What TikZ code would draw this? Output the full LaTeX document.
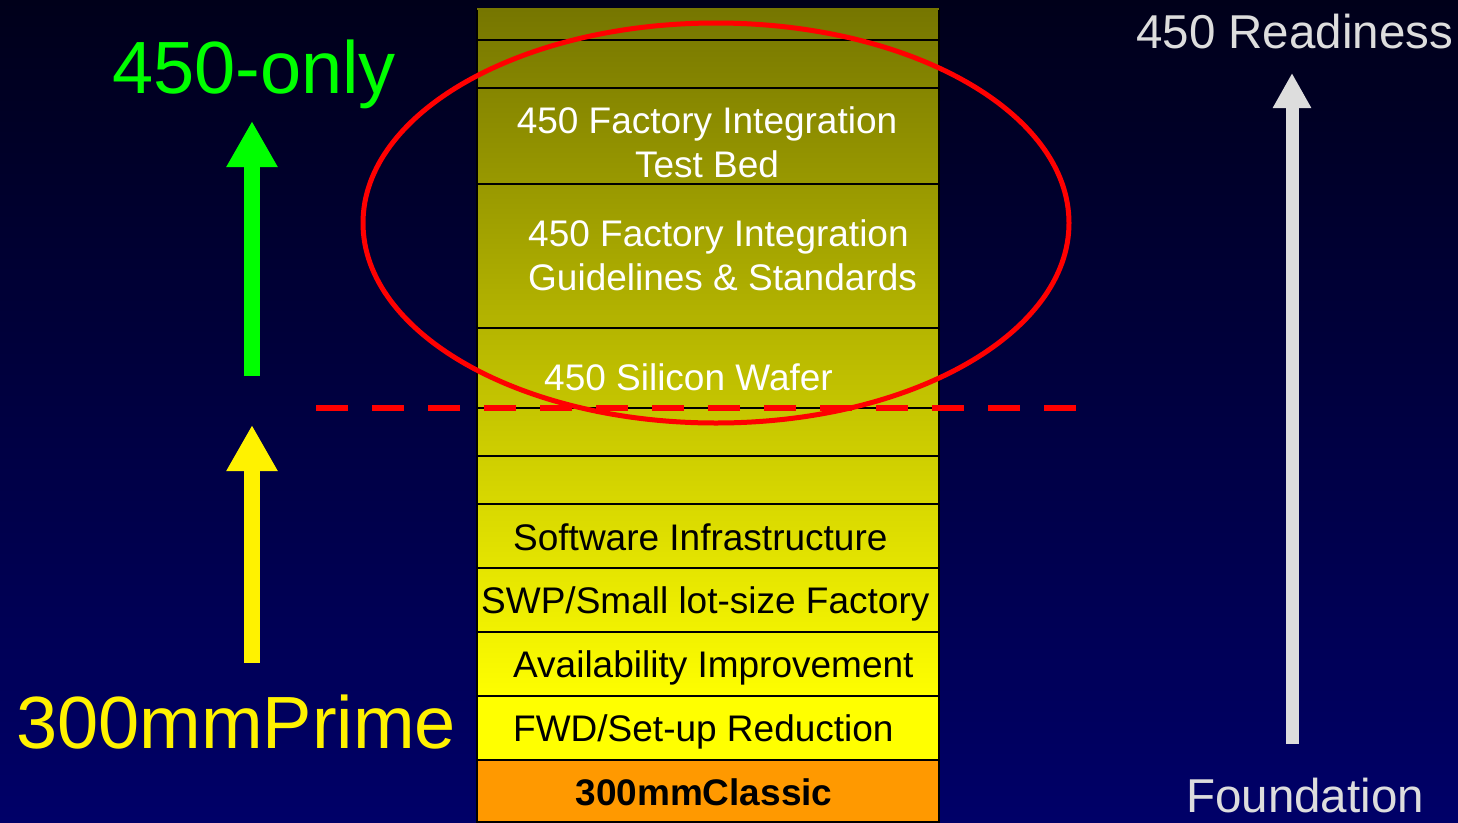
\documentclass[tikz,border=0pt]{standalone}
\usepackage{fontspec}
\setmainfont{Liberation Sans}
\usetikzlibrary{arrows.meta}
\definecolor{bgtop}{HTML}{00001A}
\definecolor{bgbot}{HTML}{000068}
\definecolor{coltop}{HTML}{767600}
\definecolor{colbot}{HTML}{FFFF00}
\definecolor{classic}{HTML}{FF9900}
\definecolor{greyarrow}{HTML}{DDDDDD}
\definecolor{greenarrow}{HTML}{00FF00}
\definecolor{redline}{HTML}{FF0000}
\tikzset{
  rowbox/.style={draw=black, line width=2pt, minimum width=462pt, inner sep=0pt, outer sep=0pt},
  coltext/.style={inner sep=0pt, font=\fontsize{37}{43.5}\selectfont},
  bigtext/.style={inner sep=0pt, font=\fontsize{74}{80}\selectfont},
  sidetext/.style={inner sep=0pt, text depth=0pt, text=greyarrow, font=\fontsize{47.5}{52}\selectfont},
  fatarrow/.style={line width=16pt, -{Triangle[width=48pt,length=46pt]}}
}
\begin{document}
\begin{tikzpicture}[x=1pt,y=-1pt]
\useasboundingbox (0,0) rectangle (1458,822);
% background
\shade[top color=bgtop, bottom color=bgbot] (0,0) rectangle (1458,822);
% column gradient
\shade[top color=coltop, bottom color=colbot] (477,9) rectangle (939,700);
\fill[colbot] (477,699) rectangle (939,760);
\fill[classic] (477,760) rectangle (939,822);
% rows
\foreach \a/\b/\n in {9/40/r1,40/88/r2,88/184/r3,184/328/r4,328/408/r5,408/456/r6,456/504/r7,504/568/r8,568/632/r9,632/696/r10,696/760/r11}{
  \node[rowbox, minimum height={\b-\a}] (\n) at (708,{(\a+\b)/2}) {};
}
\node[rowbox, minimum height=62pt] (r12) at (708,791) {};
% no border on the top edge
\draw[coltop, line width=2pt] (477,9) -- (939,9);
% column texts
\node[coltext, text=white, align=center, anchor=base] (t3) at (707,177) {450 Factory Integration\\Test Bed};
\node[coltext, text=white, align=left, anchor=base west] (t4) at (528,290) {450 Factory Integration\\Guidelines \& Standards};
\node[coltext, text=white, anchor=base west] (t5) at (544,390) {450 Silicon Wafer};
\node[coltext, text=black, anchor=base west] (t8) at (513,550) {Software Infrastructure};
\node[coltext, text=black, anchor=base west] (t9) at (481,613) {SWP/Small lot-size Factory};
\node[coltext, text=black, anchor=base west] (t10) at (513,677) {Availability Improvement};
\node[coltext, text=black, anchor=base west] (t11) at (513,741) {FWD/Set-up Reduction};
\node[coltext, text=black, anchor=base, font=\fontsize{37}{43}\selectfont\bfseries] (t12) at (704,805) {300mmClassic};
% red dashed line
\coordinate (dl) at (316,408);
\coordinate (dr) at (1076,408);
\draw[redline, line width=6pt, dash pattern=on 32pt off 24pt] (dl) -- (dr);
% ellipse
\coordinate (ell) at (716,223);
\draw[redline, line width=5pt] (ell) ellipse [x radius=353, y radius=200];
% left big labels
\node[bigtext, text=greenarrow, anchor=base west] (only) at (112,93) {450-only};
\node[bigtext, text=yellow, anchor=base west] (prime) at (16,748) {300mmPrime};
% arrows
\coordinate (ga) at (252,376);
\coordinate (gb) at (252,121);
\draw[fatarrow, greenarrow] (ga) -- (gb);
\coordinate (ya) at (252,663);
\coordinate (yb) at (252,425);
\draw[fatarrow, yellow] (ya) -- (yb);
% right side
\node[sidetext, anchor=base west] (ready) at (1136,48) {450 Readiness};
\node[sidetext, anchor=base west] (found) at (1186,812) {Foundation};
\coordinate (wa) at (1292,744);
\coordinate (wb) at (1292,73);
\draw[line width=13pt, greyarrow, -{Triangle[width=36pt,length=35pt]}] (wa) -- (wb);
\end{tikzpicture}
\end{document}
